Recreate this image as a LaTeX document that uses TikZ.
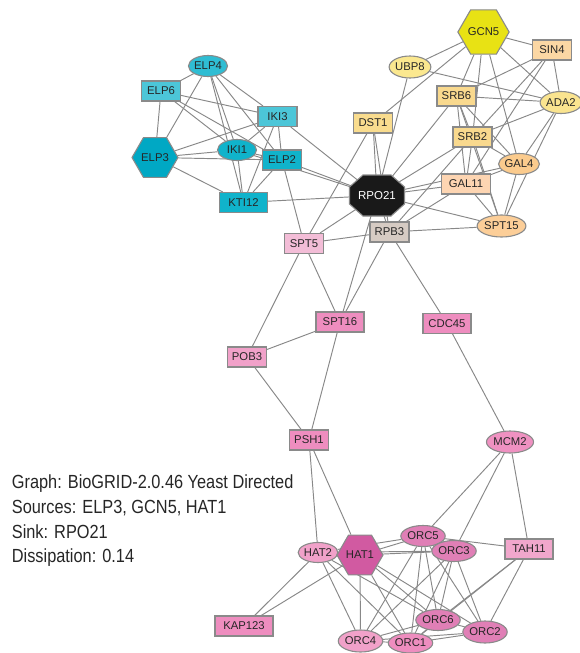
\documentclass[tikz,border=0pt]{standalone}
\usepackage{fontspec}
\setmainfont{Liberation Sans}
\usetikzlibrary{shapes.geometric}
\pgfdeclarelayer{bg}\pgfsetlayers{bg,main}
\definecolor{edgec}{HTML}{888888}
\definecolor{bordc}{HTML}{8A8A8A}
\definecolor{cyA}{HTML}{2FBDD3}
\definecolor{cyB}{HTML}{4CC6D8}
\definecolor{cyC}{HTML}{10B3CB}
\definecolor{cyD}{HTML}{00A8C4}
\definecolor{gcn}{HTML}{E8E214}
\definecolor{yl}{HTML}{FBE88F}
\definecolor{yo}{HTML}{F9D98E}
\definecolor{or}{HTML}{FBCB8D}
\definecolor{pe}{HTML}{FDD5B2}
\definecolor{rp}{HTML}{D6CBC3}
\definecolor{pkL}{HTML}{F3BDD7}
\definecolor{pkM}{HTML}{EE8DBF}
\definecolor{pkN}{HTML}{F1A1C9}
\definecolor{pkO}{HTML}{E07FB6}
\definecolor{pkH}{HTML}{D15AA1}
\begin{document}
\begin{tikzpicture}[x=1pt,y=-1pt,
  nd/.style={draw=bordc, line width=1.1pt, inner sep=0pt, font=\fontsize{11.3}{11}\selectfont, text=black!85},
  rb/.style={nd, rectangle, minimum width=#1, minimum height=20pt},
  rb/.default=39pt,
  el/.style={nd, ellipse, minimum width=39pt, minimum height=21pt},
  hx/.style={nd, regular polygon, regular polygon sides=6, minimum size=46pt},
  ed/.style={draw=edgec, line width=0.95pt},
  leg/.style={anchor=base west, inner sep=0pt, xscale=0.86, font=\fontsize{19}{20}\selectfont, text=black!85}]
\useasboundingbox (0,0) rectangle (580,653);
% top-left cluster
\node[el, fill=cyA] (ELP4) at (208,66) {ELP4};
\node[rb, fill=cyB] (ELP6) at (161,91) {ELP6};
\node[rb, fill=cyB] (IKI3) at (277.5,116.5) {IKI3};
\node[hx, fill=cyD] (ELP3) at (155,157.5) {ELP3};
\node[el, fill=cyC] (IKI1) at (237,150) {IKI1};
\node[rb, fill=cyC] (ELP2) at (282,160) {ELP2};
\node[rb=48pt, fill=cyC] (KTI12) at (243.5,202.5) {KTI12};
% top-right cluster
\node[hx, fill=gcn] (GCN5) at (483.5,32) {GCN5};
\node[rb, fill=pe!60!yo] (SIN4) at (552,50) {SIN4};
\node[el, minimum height=22pt, fill=yl] (UBP8) at (410,67) {UBP8};
\node[rb, fill=yo] (SRB6) at (456.5,96) {SRB6};
\node[el, minimum height=22pt, fill=yl!70!yo] (ADA2) at (561,102.5) {ADA2};
\node[rb, fill=yo!80!yl] (DST1) at (373,123) {DST1};
\node[rb, fill=yo] (SRB2) at (472.5,137) {SRB2};
\node[el, fill=or] (GAL4) at (519,164) {GAL4};
\node[rb=49pt, fill=pe] (GAL11) at (466,184) {GAL11};
\node[el, minimum width=48pt, minimum height=22pt, fill=or!70!pe] (SPT15) at (501.5,226) {SPT15};
% sink
\draw[fill=black!90, draw=bordc, line width=1.1pt, shift={(377,195.5)}]
  (-14,-20.5) -- (14,-20.5) -- (27.5,-8.5) -- (27.5,8.5) -- (14,20.5) -- (-14,20.5) -- (-27.5,8.5) -- (-27.5,-8.5) -- cycle;
\node[inner sep=2pt, font=\fontsize{11.5}{11}\selectfont, text=white] (RPO21) at (377,195.5) {RPO21};
% middle
\node[rb, fill=rp] (RPB3) at (389.5,232) {RPB3};
\node[rb, fill=pkL] (SPT5) at (304,243.5) {SPT5};
\node[rb=48pt, fill=pkM] (SPT16) at (340,322) {SPT16};
\node[rb=48pt, fill=pkM] (CDC45) at (447,323.5) {CDC45};
\node[rb, fill=pkN] (POB3) at (247,357) {POB3};
\node[rb, fill=pkM] (PSH1) at (309,440) {PSH1};
\node[el, minimum width=40pt, minimum height=22pt, fill=pkM!80!pkN] (MCM2) at (510,442) {MCM2};
% bottom
\node[el, minimum width=34pt, minimum height=20pt, fill=pkN] (HAT2) at (318,552.5) {HAT2};
\node[hx, fill=pkH] (HAT1) at (360,555) {HAT1};
\node[el, fill=pkO] (ORC5) at (423,536) {ORC5};
\node[el, fill=pkO] (ORC3) at (454,551) {ORC3};
\node[rb=48pt, fill=pkN!80!pkL] (TAH11) at (529,549) {TAH11};
\node[el, fill=pkO] (ORC6) at (438,620) {ORC6};
\node[el, minimum height=22pt, fill=pkO] (ORC2) at (485,632) {ORC2};
\node[el, minimum height=22pt, fill=pkN] (ORC4) at (360.5,641) {ORC4};
\node[el, minimum height=20pt, fill=pkM] (ORC1) at (410.5,643) {ORC1};
\node[rb=58pt, fill=pkM] (KAP123) at (244,626) {KAP123};
% legend
\node[leg] (leg1) at (11.7,488.3) {Graph: BioGRID-2.0.46 Yeast Directed};
\node[leg] (leg2) at (11.7,513.3) {Sources: ELP3, GCN5, HAT1};
\node[leg] (leg3) at (11.7,538.3) {Sink: RPO21};
\node[leg] (leg4) at (11.7,562.3) {Dissipation: 0.14};
\begin{pgfonlayer}{bg}
\foreach \a/\b in {ELP4/ELP6, ELP4/ELP3, ELP4/IKI1, ELP4/KTI12, ELP4/IKI3, ELP4/ELP2,
  ELP6/ELP3, ELP6/IKI3, ELP6/IKI1, ELP6/ELP2,
  ELP3/IKI3, ELP3/IKI1, ELP3/ELP2, ELP3/KTI12,
  IKI1/IKI3, IKI1/ELP2, IKI1/KTI12, IKI1/RPO21,
  IKI3/ELP2, IKI3/KTI12, IKI3/RPO21,
  ELP2/KTI12, ELP2/RPO21, ELP2/SPT5, KTI12/RPO21,
  GCN5/UBP8, GCN5/SIN4, GCN5/DST1, GCN5/SRB6, GCN5/SRB2, GCN5/GAL4, GCN5/ADA2,
  UBP8/ADA2, UBP8/RPO21,
  SIN4/ADA2, SIN4/SRB6, SIN4/SRB2, SIN4/GAL11,
  SRB6/ADA2, SRB6/SRB2, SRB6/GAL11, SRB6/GAL4, SRB6/SPT15, SRB6/RPO21,
  ADA2/SRB2, ADA2/GAL4, ADA2/SPT15,
  DST1/RPO21, DST1/RPB3, DST1/SPT5,
  SRB2/GAL4, SRB2/GAL11, SRB2/SPT15, SRB2/RPO21, SRB2/RPB3,
  GAL4/GAL11, GAL4/SPT15, GAL4/RPO21,
  GAL11/SPT15, GAL11/RPO21, GAL11/RPB3,
  SPT15/RPO21, SPT15/RPB3,
  RPO21/RPB3, RPO21/SPT5, RPO21/SPT16,
  RPB3/SPT5, RPB3/SPT16, RPB3/CDC45,
  SPT5/SPT16, SPT5/POB3, SPT16/POB3, SPT16/PSH1, POB3/PSH1,
  CDC45/MCM2, PSH1/HAT2, PSH1/HAT1,
  MCM2/ORC5, MCM2/ORC3, MCM2/TAH11,
  HAT2/HAT1, HAT2/KAP123, HAT1/KAP123,
  HAT2/ORC5, HAT2/ORC3, HAT2/ORC4, HAT2/ORC1, HAT2/ORC6,
  HAT1/ORC5, HAT1/ORC3, HAT1/ORC4, HAT1/ORC1, HAT1/ORC6, HAT1/ORC2,
  ORC5/ORC3, ORC5/TAH11, ORC5/ORC4, ORC5/ORC1, ORC5/ORC6, ORC5/ORC2,
  ORC3/ORC4, ORC3/ORC1, ORC3/ORC6, ORC3/ORC2,
  TAH11/ORC6, TAH11/ORC1, TAH11/ORC2,
  ORC6/ORC4, ORC6/ORC1, ORC6/ORC2,
  ORC4/ORC1, ORC1/ORC2, ORC4/ORC2}
  \draw[ed] (\a) -- (\b);
\end{pgfonlayer}
\end{tikzpicture}
\end{document}
